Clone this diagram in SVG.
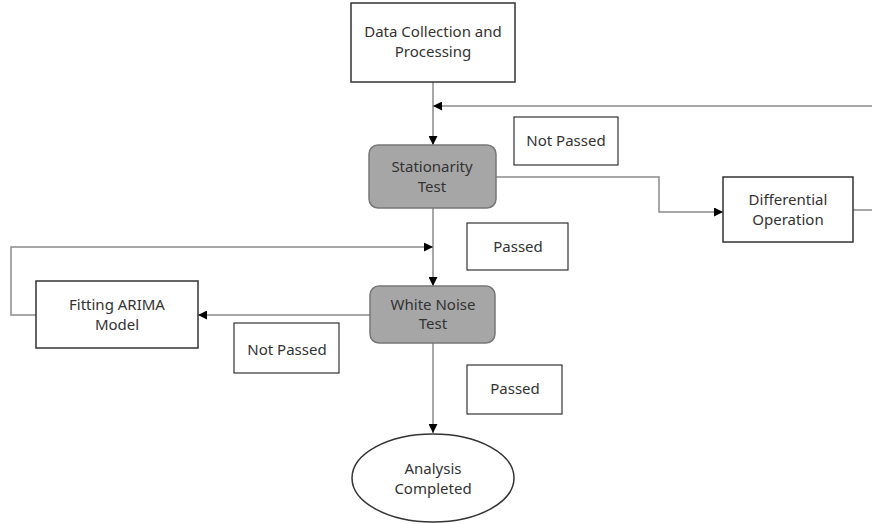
<svg xmlns="http://www.w3.org/2000/svg" width="872" height="524" viewBox="0 0 872 524">
<style>
.box{fill:#fff;stroke:#333;stroke-width:1.5}
.dec{fill:#a6a6a6;stroke:#777;stroke-width:1.5}
.lbl{fill:#fff;stroke:#333;stroke-width:1.2}
.t{font-family:"Noto Sans","Liberation Sans",sans-serif;font-size:15px;fill:#333;text-anchor:middle}
.c{fill:none;stroke:#8a8a8a;stroke-width:1.5}
</style>
<defs>
<marker id="ah" viewBox="0 0 10 10" refX="10" refY="5" markerWidth="9" markerHeight="9" markerUnits="userSpaceOnUse" orient="auto">
<path d="M0,0 L10,5 L0,10 z" fill="#000"/>
</marker>
</defs>
<g id="connectors">
<path class="c" d="M433,82 V145" marker-end="url(#ah)"/>
<path class="c" d="M872,106 H433" marker-end="url(#ah)"/>
<path class="c" d="M496,177 H659 V212 H723" marker-end="url(#ah)"/>
<path class="c" d="M853,210 H872"/>
<path class="c" d="M433,208 V286" marker-end="url(#ah)"/>
<path class="c" d="M36,315 H11 V247 H433" marker-end="url(#ah)"/>
<path class="c" d="M370,315 H198" marker-end="url(#ah)"/>
<path class="c" d="M433,343 V433" marker-end="url(#ah)"/>
</g>
<g id="data-collection">
<rect class="box" x="351" y="3" width="164" height="79"/>
<text class="t" x="433" y="37">Data Collection and</text>
<text class="t" x="433" y="57">Processing</text>
</g>
<g id="stationarity">
<rect class="dec" x="369" y="145" width="127" height="63" rx="9"/>
<text class="t" x="432" y="172">Stationarity</text>
<text class="t" x="432" y="192">Test</text>
</g>
<g id="differential">
<rect class="box" x="723" y="177" width="130" height="65"/>
<text class="t" x="788" y="205">Differential</text>
<text class="t" x="788" y="225">Operation</text>
</g>
<g id="white-noise">
<rect class="dec" x="370" y="286" width="125" height="57" rx="9"/>
<text class="t" x="433" y="310">White Noise</text>
<text class="t" x="433" y="329">Test</text>
</g>
<g id="fitting-arima">
<rect class="box" x="36" y="281" width="162" height="67"/>
<text class="t" x="117" y="310">Fitting ARIMA</text>
<text class="t" x="117" y="330">Model</text>
</g>
<g id="analysis-completed">
<ellipse class="box" cx="433" cy="478" rx="81" ry="44"/>
<text class="t" x="433" y="474">Analysis</text>
<text class="t" x="433" y="494">Completed</text>
</g>
<g id="label-not-passed-1">
<rect class="lbl" x="514" y="117" width="104" height="48"/>
<text class="t" x="566" y="146">Not Passed</text>
</g>
<g id="label-passed-1">
<rect class="lbl" x="467" y="223" width="101" height="47"/>
<text class="t" x="518" y="252">Passed</text>
</g>
<g id="label-not-passed-2">
<rect class="lbl" x="234" y="323" width="105" height="50"/>
<text class="t" x="287" y="355">Not Passed</text>
</g>
<g id="label-passed-2">
<rect class="lbl" x="467" y="365" width="95" height="49"/>
<text class="t" x="515" y="394">Passed</text>
</g>
</svg>
